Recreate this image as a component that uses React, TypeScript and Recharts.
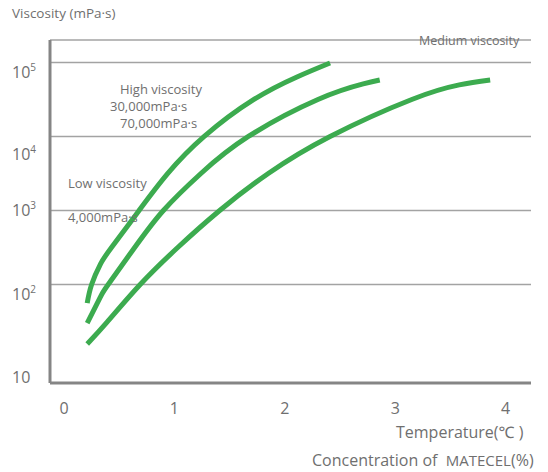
import * as React from "react"
import { LineChart, Line, XAxis, YAxis, CartesianGrid } from "recharts"

// concentration (%) -> viscosity (mPa·s)
const curve1X = [0.21, 0.25, 0.33, 0.43, 0.68, 0.94, 1.27, 1.72, 2.11, 2.41]
const curve1Y = [56, 100, 189, 316, 1000, 3162, 10000, 31600, 63700, 98400]

const curve2X = [0.21, 0.33, 0.4, 0.64, 0.9, 1.24, 1.67, 2.3, 2.71, 2.86]
const curve2Y = [30, 68, 100, 316, 1000, 3162, 10000, 31600, 51300, 58000]

const curve3X = [0.21, 0.39, 0.69, 1.03, 1.41, 1.85, 2.41, 3.15, 3.58, 3.86]
const curve3Y = [15.7, 31, 100, 316, 1000, 3162, 10000, 31600, 49700, 58000]

const xTicks = [0, 1, 2, 3, 4]
const yTicks = [4.67, 100, 1000, 10000, 100000]
const yTickLabels = ["10", "10|2", "10|3", "10|4", "10|5"]

const X_DOMAIN: [number, number] = [-0.127, 4.23]
const Y_DOMAIN: [number, number] = [4.67, 201000]

const GREEN = "#3cab4f"
const AXIS = "#858585"
const GRID = "#a3a3a3"
const TEXT = "#6f6f6f"
const FONT = "'Open Sans', 'Noto Sans', sans-serif"

const toRows = (xs: number[], ys: number[]) => xs.map((x, i) => ({ x, y: ys[i] }))

// small vertical nudges so the tick labels sit where the original has them
const yNudge: Record<string, number> = { "10": -6, "10|2": 9, "10|3": 0, "10|4": 18, "10|5": 10 }

function YTick(props: any) {
    const { y, payload } = props
    const idx = yTicks.indexOf(payload.value)
    const label = yTickLabels[idx] ?? ""
    const [base, exp] = label.split("|")
    return (
        <text x={12} y={y + (yNudge[label] ?? 0)} dy={6} fill={TEXT} fontSize={16} fontFamily={FONT}>
            {base}
            {exp && <tspan dy={-7} fontSize={10}>{exp}</tspan>}
        </text>
    )
}

const note = (left: number, top: number, size = 12): React.CSSProperties => ({
    position: "absolute",
    left,
    top,
    fontSize: size,
    fontFamily: FONT,
    color: TEXT,
    whiteSpace: "nowrap",
    lineHeight: 1
})

export default function App() {
    return (
        <div style={{ position: "absolute", left: 0, top: 0, width: 548, height: 472, background: "#fff" }}>
            <LineChart width={548} height={472} margin={{ top: 40, right: 17, left: 0, bottom: 0 }}>
                <CartesianGrid vertical={false} stroke={GRID} strokeWidth={1.5} />
                <XAxis
                    type="number"
                    dataKey="x"
                    domain={X_DOMAIN}
                    ticks={xTicks}
                    allowDataOverflow
                    height={89}
                    axisLine={{ stroke: AXIS, strokeWidth: 3 }}
                    tickLine={false}
                    tick={{ fill: TEXT, fontSize: 16, fontFamily: FONT }}
                    tickMargin={14}
                />
                <YAxis
                    type="number"
                    scale="log"
                    domain={Y_DOMAIN}
                    ticks={yTicks}
                    allowDataOverflow
                    width={50}
                    axisLine={{ stroke: AXIS, strokeWidth: 3 }}
                    tickLine={false}
                    tick={<YTick />}
                />
                <Line data={toRows(curve1X, curve1Y)} dataKey="y" type="natural" stroke={GREEN} strokeWidth={5} dot={false} isAnimationActive={false} />
                <Line data={toRows(curve2X, curve2Y)} dataKey="y" type="natural" stroke={GREEN} strokeWidth={5} dot={false} isAnimationActive={false} />
                <Line data={toRows(curve3X, curve3Y)} dataKey="y" type="natural" stroke={GREEN} strokeWidth={5} dot={false} isAnimationActive={false} />
            </LineChart>

            <div style={note(12, 7, 13.5)}>Viscosity (mPa·s)</div>
            <div style={note(419, 35, 12.5)}>Medium viscosity</div>
            <div style={note(120, 83, 13)}>High viscosity</div>
            <div style={note(110, 100, 13)}>30,000mPa·s</div>
            <div style={note(120, 117, 13)}>70,000mPa·s</div>
            <div style={note(68, 177, 13)}>Low viscosity</div>
            <div style={note(68, 211, 13)}>4,000mPa·s</div>
            <div style={note(396, 424, 16)}>Temperature(℃ )</div>
            <div style={note(312, 452, 16)}>
                Concentration of&nbsp; <span style={{ fontSize: 15 }}>MATECEL</span>(%)
            </div>
        </div>
    )
}
